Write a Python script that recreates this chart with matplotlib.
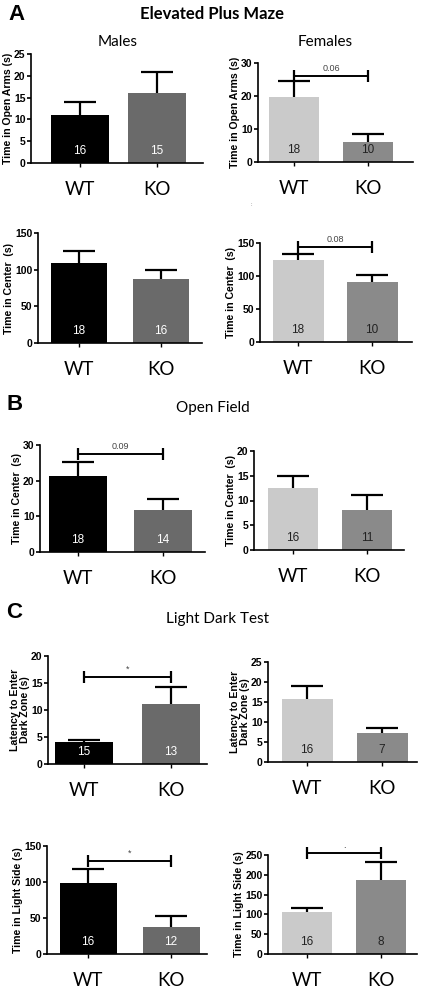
import matplotlib
matplotlib.use("Agg")
import matplotlib.pyplot as plt
import numpy as np

W, H = 421, 992
DPI = 100

groups = ["WT", "KO"]

# ---- data (means, upper SEM, n) ----
epm_open_male = [11.1, 16.0]
epm_open_male_err = [2.9, 4.9]
epm_open_male_n = [16, 15]

epm_open_female = [19.8, 6.1]
epm_open_female_err = [4.8, 2.4]
epm_open_female_n = [18, 10]

epm_center_male = [109, 87]
epm_center_male_err = [17, 12]
epm_center_male_n = [18, 16]

epm_center_female = [124, 91]
epm_center_female_err = [10, 11]
epm_center_female_n = [18, 10]

of_center_male = [21.3, 11.8]
of_center_male_err = [3.9, 3.1]
of_center_male_n = [18, 14]

of_center_female = [12.6, 8.1]
of_center_female_err = [2.3, 3.0]
of_center_female_n = [16, 11]

ldt_latency_male = [4.0, 11.1]
ldt_latency_male_err = [0.5, 3.2]
ldt_latency_male_n = [15, 13]

ldt_latency_female = [15.7, 7.2]
ldt_latency_female_err = [3.3, 1.3]
ldt_latency_female_n = [16, 7]

ldt_light_male = [99, 38]
ldt_light_male_err = [19, 15]
ldt_light_male_n = [16, 12]

ldt_light_female = [105, 186]
ldt_light_female_err = [11, 46]
ldt_light_female_n = [16, 8]

# y-axis ticks
yticks_open_male = [0, 5, 10, 15, 20, 25]
yticks_open_female = [0, 10, 20, 30]
yticks_center_epm = [0, 50, 100, 150]
yticks_of_male = [0, 10, 20, 30]
yticks_of_female = [0, 5, 10, 15, 20]
yticks_lat_male = [0, 5, 10, 15, 20]
yticks_lat_female = [0, 5, 10, 15, 20, 25]
yticks_light_male = [0, 50, 100, 150]
yticks_light_female = [0, 50, 100, 150, 200, 250]

# significance brackets: (label, height)
sig_open_female = ("0.06", 26)
sig_center_female = ("0.08", 144)
sig_of_male = ("0.09", 27.5)
sig_lat_male = ("*", 16.1)
sig_light_male = ("*", 129)
sig_light_female = (".", 255)

MALE_COLORS = ["#000000", "#6a6a6a"]
FEMALE_COLORS = ["#cacaca", "#8a8a8a"]
MALE_NCOL = ["white", "white"]
FEMALE_NCOL = ["#222222", "#222222"]

fig = plt.figure(figsize=(W / DPI, H / DPI), dpi=DPI)

LATO = ["Lato", "DejaVu Sans"]
ARIAL = ["Liberation Sans", "DejaVu Sans"]


def panel(x0, x1, ytop, y0, cwt, cko, bw, vals, errs, ns, yticks, ylabel,
          colors, ncols, sig=None, ylabelpad=1):
    ax = fig.add_axes([x0 / W, 1 - y0 / H, (x1 - x0) / W, (y0 - ytop) / H])
    d = cko - cwt
    x = np.arange(len(groups))
    vals = np.asarray(vals, float)
    errs = np.asarray(errs, float)
    ax.bar(x, vals, width=bw / d, color=colors, zorder=2)
    ax.vlines(x, vals, vals + errs, color="black", lw=1.6, zorder=3)
    ax.plot(x, vals + errs, linestyle="none", marker="_", markersize=23,
            markeredgewidth=1.6, color="black", zorder=3, clip_on=False)
    ax.set_xlim((x0 - cwt) / d, (x1 - cwt) / d)
    ax.set_ylim(0, yticks[-1])
    ax.set_yticks(yticks)
    ax.set_yticklabels([str(t) for t in yticks], fontsize=7.5,
                       fontweight="bold", family=ARIAL)
    ax.set_xticks(x)
    ax.set_xticklabels(groups, fontsize=13.5, family=LATO)
    ax.tick_params(axis="x", length=3, width=1, pad=10)
    ax.tick_params(axis="y", length=3, width=1.2, pad=1)
    for s in ["top", "right"]:
        ax.spines[s].set_visible(False)
    for s in ["left", "bottom"]:
        ax.spines[s].set_linewidth(1.2)
    ax.set_ylabel(ylabel, fontsize=7.6, fontweight="bold", family=ARIAL,
                  labelpad=ylabelpad, linespacing=1.0)
    frac = 12.0 / (y0 - ytop)
    for i, n in enumerate(ns):
        ax.text(x[i], frac, str(n), ha="center", va="center",
                transform=ax.get_xaxis_transform(),
                color=ncols[i], fontsize=8.5, family=ARIAL, zorder=4)
    if sig is not None:
        lab, h = sig
        ax.plot([0, 1], [h, h], color="black", lw=1.4, clip_on=False, zorder=4)
        ax.plot([0, 1], [h, h], linestyle="none", marker="|", markersize=8,
                markeredgewidth=1.6, color="black", clip_on=False, zorder=4)
        ax.text(0.5, h + yticks[-1] * 0.03, lab, ha="center", va="bottom",
                fontsize=6.5, color="#444444", family=ARIAL)
    return ax


# Row A1
panel(31, 203, 54, 163, 80, 157, 58, epm_open_male, epm_open_male_err,
      epm_open_male_n, yticks_open_male, "Time in Open Arms (s)",
      MALE_COLORS, MALE_NCOL)
panel(258, 413, 63, 162, 294, 368, 50, epm_open_female, epm_open_female_err,
      epm_open_female_n, yticks_open_female, "Time in Open Arms (s)",
      FEMALE_COLORS, FEMALE_NCOL, sig_open_female)
# Row A2
panel(38, 202, 233, 343, 79, 161, 56, epm_center_male, epm_center_male_err,
      epm_center_male_n, yticks_center_epm, "Time in Center  (s)",
      MALE_COLORS, MALE_NCOL)
panel(260, 412, 243, 342, 298, 372, 51, epm_center_female, epm_center_female_err,
      epm_center_female_n, yticks_center_epm, "Time in Center  (s)",
      FEMALE_COLORS, FEMALE_NCOL, sig_center_female)
# Row B
panel(40, 205, 445, 552, 78, 163, 58, of_center_male, of_center_male_err,
      of_center_male_n, yticks_of_male, "Time in Center  (s)",
      MALE_COLORS, MALE_NCOL, sig_of_male)
panel(254, 404, 451, 550, 293, 367, 50, of_center_female, of_center_female_err,
      of_center_female_n, yticks_of_female, "Time in Center  (s)",
      FEMALE_COLORS, FEMALE_NCOL)
# Row C1
panel(48, 207, 656, 764, 84, 171, 58, ldt_latency_male, ldt_latency_male_err,
      ldt_latency_male_n, yticks_lat_male, "Latency to Enter\nDark Zone (s)",
      MALE_COLORS, MALE_NCOL, sig_lat_male)
panel(268, 417, 662, 762, 307, 382, 51, ldt_latency_female, ldt_latency_female_err,
      ldt_latency_female_n, yticks_lat_female, "Latency to Enter\nDark Zone (s)",
      FEMALE_COLORS, FEMALE_NCOL)
# Row C2
panel(47, 207, 846, 954, 88, 171, 57, ldt_light_male, ldt_light_male_err,
      ldt_light_male_n, yticks_light_male, "Time in Light Side (s)",
      MALE_COLORS, MALE_NCOL, sig_light_male)
panel(268, 417, 855, 954, 307, 381, 50, ldt_light_female, ldt_light_female_err,
      ldt_light_female_n, yticks_light_female, "Time in Light Side (s)",
      FEMALE_COLORS, FEMALE_NCOL, sig_light_female)


def ftext(xp, yp, s, **kw):
    fig.text(xp / W, 1 - yp / H, s, **kw)


ftext(8, 15, "A", fontsize=16, fontweight="bold", family=ARIAL, va="center")
ftext(212, 14, "Elevated Plus Maze", fontsize=12, fontweight="bold", family=LATO,
      ha="center", va="center")
ftext(118, 42, "Males", fontsize=11, family=LATO, ha="center", va="center")
ftext(325, 42, "Females", fontsize=11, family=LATO, ha="center", va="center")
ftext(251, 205, ":", fontsize=4, family=ARIAL, ha="center", va="center",
      color="#555555")
ftext(6, 405, "B", fontsize=16, fontweight="bold", family=ARIAL, va="center")
ftext(213, 408, "Open Field", fontsize=11, family=LATO, ha="center", va="center")
ftext(6, 612, "C", fontsize=16, fontweight="bold", family=ARIAL, va="center")
ftext(217, 619, "Light Dark Test", fontsize=11, family=LATO, ha="center",
      va="center")

fig.savefig("out.png", dpi=DPI)
